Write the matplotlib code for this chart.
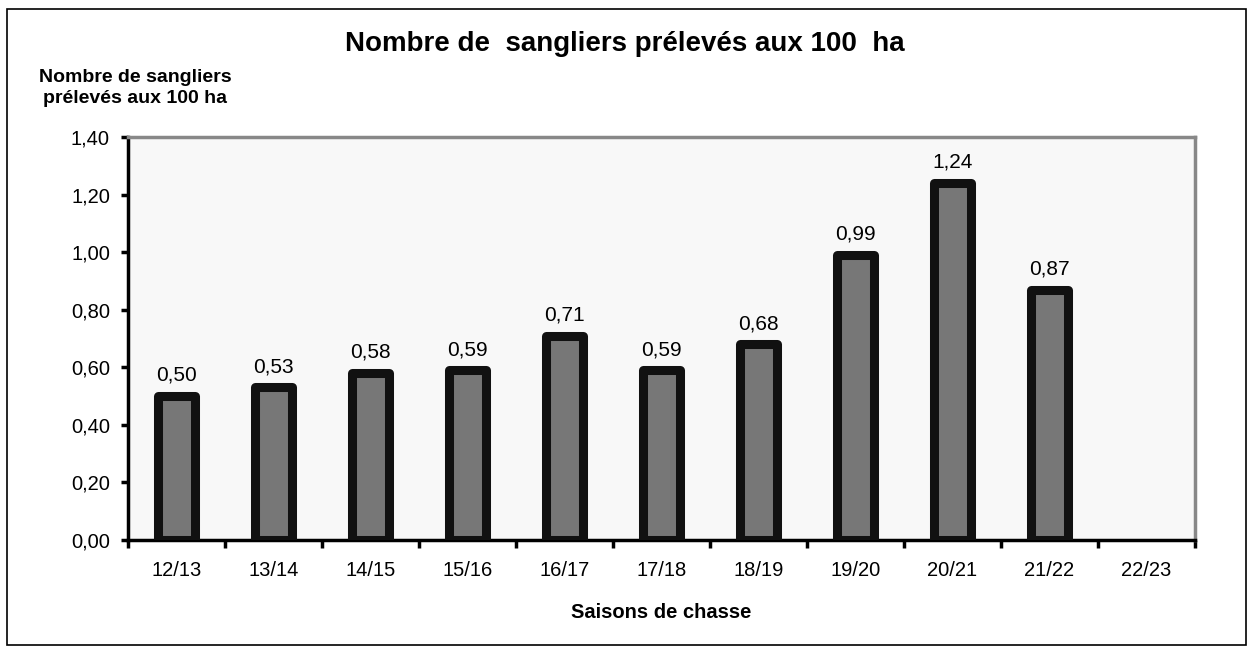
import matplotlib
matplotlib.use("Agg")
import matplotlib.pyplot as plt
from matplotlib.patches import Rectangle

plt.rcParams['font.family'] = ['Liberation Sans', 'DejaVu Sans']

seasons = ["12/13", "13/14", "14/15", "15/16", "16/17", "17/18", "18/19",
           "19/20", "20/21", "21/22", "22/23"]
values = [0.50, 0.53, 0.58, 0.59, 0.71, 0.59, 0.68, 0.99, 1.24, 0.87, None]
yticks = [0.0, 0.2, 0.4, 0.6, 0.8, 1.0, 1.2, 1.4]

W, H = 1253, 652
fig = plt.figure(figsize=(W / 100, H / 100), dpi=100)
fig.patch.set_facecolor("white")

# outer frame
fig.add_artist(Rectangle((7 / W, 7 / H), (1246 - 7) / W, (645 - 9) / H,
                         transform=fig.transFigure, fill=False,
                         edgecolor="black", linewidth=1.2))

left, right, top, bottom = 128, 1195, 137, 540
ax = fig.add_axes([left / W, 1 - bottom / H, (right - left) / W, (bottom - top) / H])
ax.set_facecolor("#f8f8f8")

x = list(range(len(seasons)))
plot_x = [i for i, v in zip(x, values) if v is not None]
plot_v = [v for v in values if v is not None]
bars = ax.bar(plot_x, plot_v, width=0.38, color="#777777", edgecolor="#111111",
              linewidth=6.5, zorder=3)
for b in bars:
    b.set_joinstyle("round")
for xi, v in zip(plot_x, plot_v):
    ax.annotate(f"{v:.2f}".replace(".", ","), (xi, v), xytext=(0, 8),
                textcoords="offset points", ha="center", va="bottom",
                fontsize=15)

ax.set_xlim(-0.5, len(seasons) - 0.5)
ax.set_ylim(0, 1.4)
ax.set_yticks(yticks)
ax.set_yticklabels([f"{t:.2f}".replace(".", ",") for t in yticks], fontsize=14.5)
ax.set_xticks(x)
ax.set_xticklabels(seasons, fontsize=14.5)
ax.set_xticks([i + 0.5 for i in range(-1, len(seasons))], minor=True)
ax.tick_params(axis="x", which="major", length=0, pad=15)
ax.tick_params(axis="x", which="minor", length=6, width=2.5, direction="out")
ax.tick_params(axis="y", which="major", length=5, width=2.5, direction="out", pad=8)

for s in ["left", "bottom"]:
    ax.spines[s].set_color("black")
    ax.spines[s].set_linewidth(2.5)
for s in ["top", "right"]:
    ax.spines[s].set_color("#888888")
    ax.spines[s].set_linewidth(2.5)

fig.text(625 / W, 1 - 44 / H, "Nombre de  sangliers prélevés aux 100  ha",
         ha="center", va="center", fontsize=20, fontweight="bold")
fig.text(135 / W, 1 - 88 / H, "Nombre de sangliers\nprélevés aux 100 ha",
         ha="center", va="center", fontsize=14, fontweight="bold", linespacing=1.3)
fig.text(661 / W, 1 - 612 / H, "Saisons de chasse", ha="center", va="center",
         fontsize=14.5, fontweight="bold")

fig.savefig("out.png", dpi=100)
